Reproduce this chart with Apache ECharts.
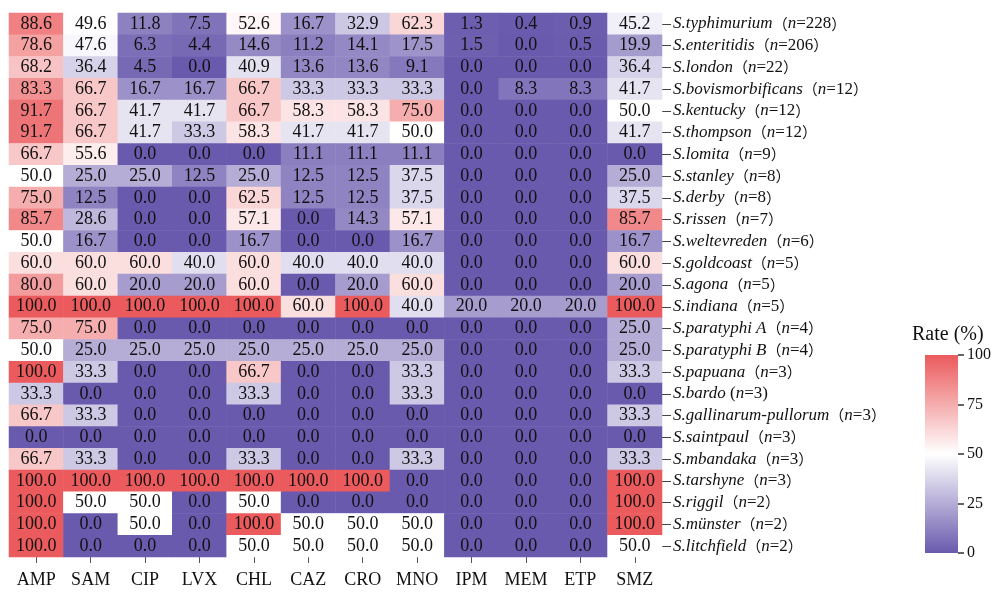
<!DOCTYPE html>
<html>
<head>
<meta charset="utf-8">
<script src="https://cdn.jsdelivr.net/npm/echarts@6/dist/echarts.min.js"></script>
<style>html,body{margin:0;padding:0;background:#fff}#c{width:999px;height:592px}</style>
</head>
<body>
<div id="c"></div>
<script>
const antibiotics = ['AMP','SAM','CIP','LVX','CHL','CAZ','CRO','MNO','IPM','MEM','ETP','SMZ'];
const serovars = ['S.typhimurium','S.enteritidis','S.london','S.bovismorbificans','S.kentucky','S.thompson','S.lomita','S.stanley','S.derby','S.rissen','S.weltevreden','S.goldcoast','S.agona','S.indiana','S.paratyphi A','S.paratyphi B','S.papuana','S.bardo','S.gallinarum-pullorum','S.saintpaul','S.mbandaka','S.tarshyne','S.riggil','S.münster','S.litchfield'];
const sampleN = [228,206,22,12,12,12,9,8,8,7,6,5,5,5,4,4,3,3,3,3,3,3,2,2,2];
const rates = [
  [88.6,49.6,11.8,7.5,52.6,16.7,32.9,62.3,1.3,0.4,0.9,45.2],
  [78.6,47.6,6.3,4.4,14.6,11.2,14.1,17.5,1.5,0.0,0.5,19.9],
  [68.2,36.4,4.5,0.0,40.9,13.6,13.6,9.1,0.0,0.0,0.0,36.4],
  [83.3,66.7,16.7,16.7,66.7,33.3,33.3,33.3,0.0,8.3,8.3,41.7],
  [91.7,66.7,41.7,41.7,66.7,58.3,58.3,75.0,0.0,0.0,0.0,50.0],
  [91.7,66.7,41.7,33.3,58.3,41.7,41.7,50.0,0.0,0.0,0.0,41.7],
  [66.7,55.6,0.0,0.0,0.0,11.1,11.1,11.1,0.0,0.0,0.0,0.0],
  [50.0,25.0,25.0,12.5,25.0,12.5,12.5,37.5,0.0,0.0,0.0,25.0],
  [75.0,12.5,0.0,0.0,62.5,12.5,12.5,37.5,0.0,0.0,0.0,37.5],
  [85.7,28.6,0.0,0.0,57.1,0.0,14.3,57.1,0.0,0.0,0.0,85.7],
  [50.0,16.7,0.0,0.0,16.7,0.0,0.0,16.7,0.0,0.0,0.0,16.7],
  [60.0,60.0,60.0,40.0,60.0,40.0,40.0,40.0,0.0,0.0,0.0,60.0],
  [80.0,60.0,20.0,20.0,60.0,0.0,20.0,60.0,0.0,0.0,0.0,20.0],
  [100.0,100.0,100.0,100.0,100.0,60.0,100.0,40.0,20.0,20.0,20.0,100.0],
  [75.0,75.0,0.0,0.0,0.0,0.0,0.0,0.0,0.0,0.0,0.0,25.0],
  [50.0,25.0,25.0,25.0,25.0,25.0,25.0,25.0,0.0,0.0,0.0,25.0],
  [100.0,33.3,0.0,0.0,66.7,0.0,0.0,33.3,0.0,0.0,0.0,33.3],
  [33.3,0.0,0.0,0.0,33.3,0.0,0.0,33.3,0.0,0.0,0.0,0.0],
  [66.7,33.3,0.0,0.0,0.0,0.0,0.0,0.0,0.0,0.0,0.0,33.3],
  [0.0,0.0,0.0,0.0,0.0,0.0,0.0,0.0,0.0,0.0,0.0,0.0],
  [66.7,33.3,0.0,0.0,33.3,0.0,0.0,33.3,0.0,0.0,0.0,33.3],
  [100.0,100.0,100.0,100.0,100.0,100.0,100.0,0.0,0.0,0.0,0.0,100.0],
  [100.0,50.0,50.0,0.0,50.0,0.0,0.0,0.0,0.0,0.0,0.0,100.0],
  [100.0,0.0,50.0,0.0,100.0,50.0,50.0,50.0,0.0,0.0,0.0,100.0],
  [100.0,0.0,0.0,0.0,50.0,50.0,50.0,50.0,0.0,0.0,0.0,50.0]
];
const colorbarTicks = [0,25,50,75,100];
const scaleColors = ['#6A5AAD', '#FFFFFF', '#EB5A5C'];

const FONT = '"Liberation Serif","Times New Roman",serif';
const data = [];
rates.forEach((row, r) => row.forEach((v, c) => data.push([c, r, v])));

const chart = echarts.init(document.getElementById('c'));
chart.setOption({
  animation: false,
  grid: [
    {left: 9, top: 13, width: 653, height: 544, outerBoundsMode: 'none', containLabel: false},
    {left: 925, top: 355, width: 33, height: 198, outerBoundsMode: 'none', containLabel: false, show: false}
  ],
  xAxis: [
    {type: 'category', data: antibiotics, gridIndex: 0, position: 'bottom',
      axisLine: {show: false},
      axisTick: {show: true, alignWithLabel: true, interval: 0, length: 6, lineStyle: {color: '#555'}},
      axisLabel: {interval: 0, fontFamily: FONT, fontSize: 18, color: '#111', margin: 14},
      splitLine: {show: false}},
    {type: 'category', data: [''], gridIndex: 1, show: false,
      axisLine: {show: false}, axisTick: {show: false}, axisLabel: {show: false}, splitLine: {show: false}}
  ],
  yAxis: [
    {type: 'category', data: serovars, gridIndex: 0, inverse: true, position: 'right',
      axisLine: {show: false},
      axisTick: {show: true, alignWithLabel: true, interval: 0, length: 9, lineStyle: {color: '#444'}},
      axisLabel: {
        interval: 0,
        margin: 11,
        formatter: function (val, idx) {
          const n = sampleN[idx];
          if (val === 'S.bardo') return '{i|' + val + '}{r| (}{i|n}{r|=' + n + ')}';
          return '{i|' + val + '}{w|（}{i|n}{r|=' + n + '}{w|）}';
        },
        rich: {
          i: {fontFamily: FONT, fontStyle: 'italic', fontSize: 17, color: '#111'},
          r: {fontFamily: FONT, fontSize: 17, color: '#111'},
          w: {fontFamily: '"Noto Sans CJK SC",sans-serif', fontSize: 15, color: '#111'}
        }
      },
      splitLine: {show: false}},
    {type: 'value', gridIndex: 1, position: 'right', min: 0, max: 100, interval: 25,
      axisLine: {show: false, onZero: false},
      axisTick: {show: true, length: 6, lineStyle: {color: '#333', width: 1.5}},
      axisLabel: {fontFamily: FONT, fontSize: 16, color: '#111', margin: 9,
        formatter: v => colorbarTicks.indexOf(v) >= 0 ? String(v) : ''},
      splitLine: {show: false}, splitArea: {show: false}, minorTick: {show: false}}
  ],
  visualMap: {
    type: 'continuous', min: 0, max: 100, seriesIndex: 0, show: false,
    inRange: {color: scaleColors}
  },
  graphic: [
    {type: 'rect', left: 925, top: 355, z: 100, zlevel: 1,
      shape: {width: 33, height: 198},
      style: {fill: new echarts.graphic.LinearGradient(0, 1, 0, 0, [
        {offset: 0, color: scaleColors[0]},
        {offset: 0.5, color: scaleColors[1]},
        {offset: 1, color: scaleColors[2]}
      ])}},
    {type: 'text', left: 912, top: 325,
      style: {text: 'Rate (%)', font: '20px ' + FONT, fill: '#111'}}
  ],
  series: [{
    type: 'heatmap', xAxisIndex: 0, yAxisIndex: 0, data: data,
    label: {show: true, formatter: p => p.value[2].toFixed(1),
      fontFamily: FONT, fontSize: 18, color: '#111'},
    itemStyle: {borderWidth: 0},
    emphasis: {disabled: true}
  }]
});
</script>
</body>
</html>
